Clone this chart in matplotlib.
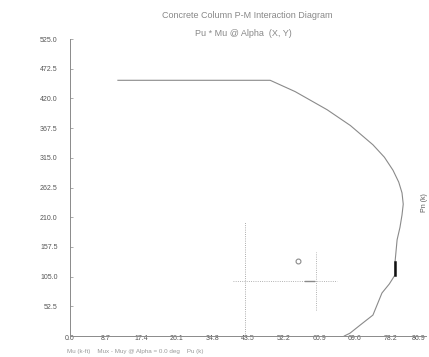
import matplotlib
matplotlib.use('Agg')
import matplotlib.pyplot as plt

plt.rcParams['font.family'] = ['Liberation Sans', 'DejaVu Sans']

# interaction curve, moment (k-ft) vs axial load (k)
curve_m = [11.7, 48.9, 55.0, 62.8, 68.5, 74.0, 76.8, 78.9, 80.3, 81.1, 81.4, 81.1,
           80.6, 79.9, 79.4, 79.4, 78.0, 76.2, 74.0, 71.0, 68.4, 67.0]
curve_p = [452.0, 452.0, 432.0, 400.0, 372.0, 338.0, 316.0, 293.0, 272.0, 253.0, 233.0, 214.0,
           192.0, 170.0, 131.0, 108.0, 92.0, 76.0, 37.0, 20.0, 5.0, 0.0]

# load point and its guide lines
load_m = 55.7
load_p = 133.0
guide_v_m = 42.8
guide_v_p = [0.0, 202.0]
guide_h_p = 98.0
guide_h_m = [39.8, 65.2]
guide_s_m = 60.0
guide_s_p = [46.0, 149.0]

x_ticks = [0.0, 8.696, 17.392, 26.088, 34.784, 43.48, 52.176, 60.872, 69.568, 78.264, 86.96]
x_labels = ['0.0', '8.7', '17.4', '26.1', '34.8', '43.5', '52.2', '60.9', '69.6', '78.2', '86.9']
y_ticks = [52.5, 105.0, 157.5, 210.0, 262.5, 315.0, 367.5, 420.0, 472.5, 525.0]
y_labels = ['52.5', '105.0', '157.5', '210.0', '262.5', '315.0', '367.5', '420.0', '472.5', '525.0']

fig = plt.figure(figsize=(4.29, 3.57), dpi=100)
ax = fig.add_axes([70/429, 1 - 336/357, 356/429, 297/357])

ax.plot(curve_m, curve_p, color='#8a8a8a', lw=0.8)
# balanced region highlighted
ax.plot(curve_m[14:16], curve_p[14:16], color='#111111', lw=1.8)

ax.plot([guide_v_m, guide_v_m], guide_v_p, color='#8f8f8f', lw=0.6, ls=':')
ax.plot(guide_h_m, [guide_h_p, guide_h_p], color='#9a9a9a', lw=0.6, ls=':')
ax.plot([guide_s_m, guide_s_m], guide_s_p, color='#9a9a9a', lw=0.6, ls=':')
ax.plot([load_m], [load_p], marker='o', ms=3.5, mfc='none', mec='#8a8a8a', mew=0.8)
ax.plot([57.5, 59.5], [guide_h_p, guide_h_p], color='#8a8a8a', lw=1.0)

ax.set_xlim(0, 86.96)
ax.set_ylim(0, 525.0)
ax.set_xticks(x_ticks)
ax.set_xticklabels(x_labels)
ax.set_yticks(y_ticks)
ax.set_yticklabels(y_labels)
# keep the last moment label inside the frame
ax.get_xticklabels()[-1].set_ha('right')

for side in ['top', 'right']:
    ax.spines[side].set_visible(False)
for side in ['left', 'bottom']:
    ax.spines[side].set_color('#8a8a8a')
    ax.spines[side].set_linewidth(0.7)

ax.tick_params(axis='x', length=0, pad=-1, labelsize=5, labelcolor='#555555')
ax.tick_params(axis='y', direction='in', length=2, width=0.5, color='#8a8a8a',
               pad=9, labelsize=5, labelcolor='#555555')

fig.text(247/429, 1 - 16/357, 'Concrete Column P-M Interaction Diagram',
         ha='center', va='center', fontsize=6.5, color='#888888')
fig.text(243/429, 1 - 33/357, 'Pu * Mu @ Alpha  (X, Y)',
         ha='center', va='center', fontsize=6.5, color='#888888')
fig.text(67/429, 1 - 351/357, 'Mu (k-ft)    Mux - Muy @ Alpha = 0.0 deg    Pu (k)',
         ha='left', va='center', fontsize=4.5, color='#999999')
fig.text(424/429, 1 - 203/357, 'Pn (k)', rotation=90,
         ha='center', va='center', fontsize=5, color='#555555')

fig.savefig('out.png', dpi=100)
